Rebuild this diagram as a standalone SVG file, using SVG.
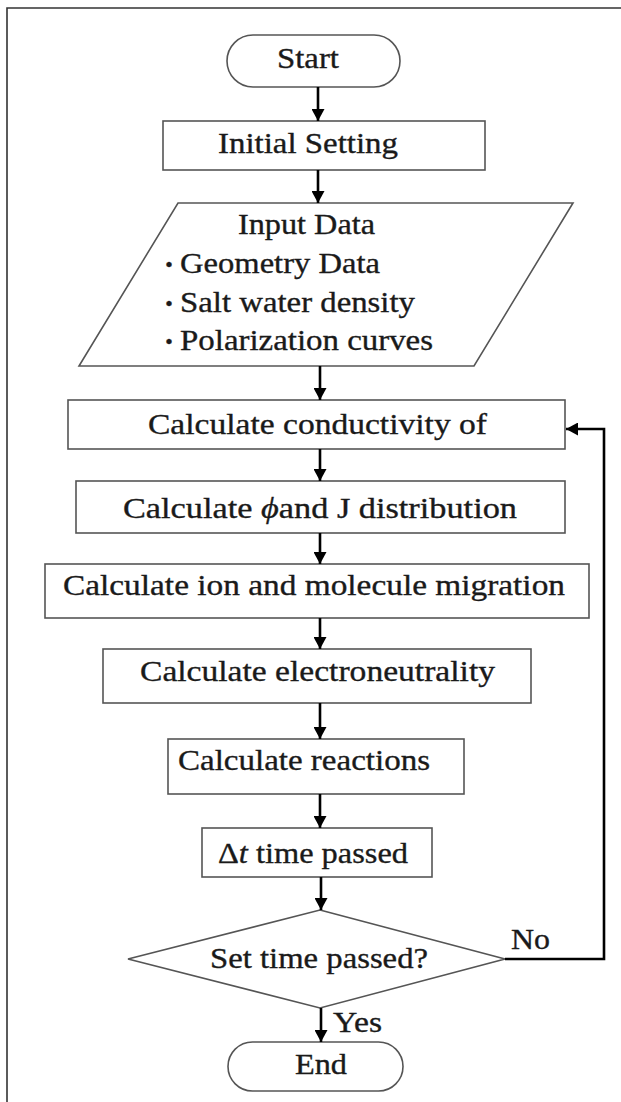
<svg xmlns="http://www.w3.org/2000/svg" width="621" height="1102" viewBox="0 0 621 1102">
<style>
.shape{fill:#fff;stroke:#555;stroke-width:1.6}
.t{font-family:"Liberation Serif","Times New Roman",serif;font-size:30px;fill:#1a1a1a;stroke:#1a1a1a;stroke-width:0.35}
.c{stroke:#000;stroke-width:2.6;fill:none}
.frame{stroke:#333;stroke-width:1.6;fill:none}
</style>
<defs>
<marker id="ah" markerWidth="12" markerHeight="13" refX="12" refY="6.5" orient="auto" markerUnits="userSpaceOnUse">
<path d="M0,0 L12,6.5 L0,13 z" fill="#000"/>
</marker>
</defs>
<rect width="621" height="1102" fill="#fff"/>
<path class="frame" d="M7,1102 V8 H621"/>

<g id="start">
<rect class="shape" x="227" y="35" width="173" height="52" rx="26"/>
<text class="t" x="277" y="68" textLength="62" lengthAdjust="spacingAndGlyphs">Start</text>
</g>
<g id="init">
<rect class="shape" x="163" y="121" width="322" height="49"/>
<text class="t" x="218" y="153" textLength="180" lengthAdjust="spacingAndGlyphs">Initial Setting</text>
</g>
<g id="input">
<polygon class="shape" points="178,203 573,203 474,366 79,366"/>
<text class="t" x="238" y="234" textLength="137" lengthAdjust="spacingAndGlyphs">Input Data</text>
<text class="t" x="157" y="273"><tspan font-family="'Noto Sans CJK JP',sans-serif" font-size="24">・</tspan><tspan x="180" textLength="200" lengthAdjust="spacingAndGlyphs">Geometry Data</tspan></text>
<text class="t" x="157" y="312"><tspan font-family="'Noto Sans CJK JP',sans-serif" font-size="24">・</tspan><tspan x="180" textLength="235" lengthAdjust="spacingAndGlyphs">Salt water density</tspan></text>
<text class="t" x="157" y="350"><tspan font-family="'Noto Sans CJK JP',sans-serif" font-size="24">・</tspan><tspan x="180" textLength="253" lengthAdjust="spacingAndGlyphs">Polarization curves</tspan></text>
</g>
<g id="cond">
<rect class="shape" x="68" y="400" width="497" height="49"/>
<text class="t" x="148" y="434" textLength="339" lengthAdjust="spacingAndGlyphs">Calculate conductivity of</text>
</g>
<g id="phi">
<rect class="shape" x="76" y="481" width="489" height="52"/>
<text class="t" x="123" y="518" textLength="394" lengthAdjust="spacingAndGlyphs">Calculate <tspan font-style="italic">ϕ</tspan>and J distribution</text>
</g>
<g id="ion">
<rect class="shape" x="45" y="564" width="544" height="54"/>
<text class="t" x="63" y="595" textLength="502" lengthAdjust="spacingAndGlyphs">Calculate ion and molecule migration</text>
</g>
<g id="elec">
<rect class="shape" x="103" y="649" width="428" height="54"/>
<text class="t" x="140" y="681" textLength="355" lengthAdjust="spacingAndGlyphs">Calculate electroneutrality</text>
</g>
<g id="react">
<rect class="shape" x="168" y="739" width="296" height="55"/>
<text class="t" x="178" y="770" textLength="252" lengthAdjust="spacingAndGlyphs">Calculate reactions</text>
</g>
<g id="dt">
<rect class="shape" x="202" y="828" width="230" height="49"/>
<text class="t" x="218" y="863" textLength="190" lengthAdjust="spacingAndGlyphs">Δ<tspan font-style="italic">t</tspan> time passed</text>
</g>
<g id="decision">
<polygon class="shape" points="320,910 505,959 320,1008 128,959"/>
<text class="t" x="210" y="968" textLength="218" lengthAdjust="spacingAndGlyphs">Set time passed?</text>
</g>
<g id="end">
<rect class="shape" x="228" y="1042" width="175" height="49" rx="24.5"/>
<text class="t" x="295" y="1074" textLength="52" lengthAdjust="spacingAndGlyphs">End</text>
</g>

<g id="connectors">
<line class="c" x1="318" y1="87" x2="318" y2="121" marker-end="url(#ah)"/>
<line class="c" x1="318" y1="170" x2="318" y2="203" marker-end="url(#ah)"/>
<line class="c" x1="320" y1="366" x2="320" y2="400" marker-end="url(#ah)"/>
<line class="c" x1="320" y1="449" x2="320" y2="481" marker-end="url(#ah)"/>
<line class="c" x1="320" y1="533" x2="320" y2="564" marker-end="url(#ah)"/>
<line class="c" x1="320" y1="618" x2="320" y2="649" marker-end="url(#ah)"/>
<line class="c" x1="320" y1="703" x2="320" y2="739" marker-end="url(#ah)"/>
<line class="c" x1="320" y1="794" x2="320" y2="828" marker-end="url(#ah)"/>
<line class="c" x1="321" y1="877" x2="321" y2="910" marker-end="url(#ah)"/>
<line class="c" x1="321" y1="1008" x2="321" y2="1042" marker-end="url(#ah)"/>
<polyline class="c" points="505,959 604,959 604,429 566,429" marker-end="url(#ah)"/>
<text class="t" x="511" y="949" textLength="39" lengthAdjust="spacingAndGlyphs">No</text>
<text class="t" x="333" y="1032" textLength="49" lengthAdjust="spacingAndGlyphs">Yes</text>
</g>
</svg>
